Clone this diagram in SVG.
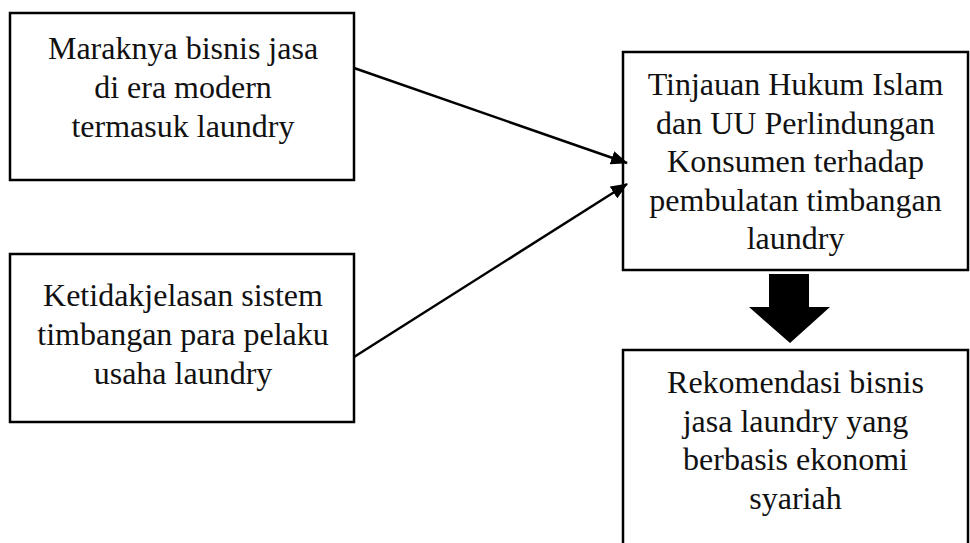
<svg xmlns="http://www.w3.org/2000/svg" width="970" height="543" viewBox="0 0 970 543">
<defs>
<style>
.box{fill:#fff;stroke:#000;stroke-width:2.5}
.t{font-family:"Liberation Serif","Times New Roman",serif;font-size:32px;fill:#111;text-anchor:middle}
.con{stroke:#000;stroke-width:2.5;fill:none}
</style>
<marker id="ah" markerWidth="17" markerHeight="14" refX="16" refY="7" orient="auto" markerUnits="userSpaceOnUse" viewBox="0 0 17 14">
<path d="M0,0 L17,7 L0,14 z" fill="#000"/>
</marker>
</defs>
<rect width="970" height="543" fill="#fff"/>
<g id="n1">
<rect class="box" x="10" y="13" width="344" height="167"/>
<text class="t" x="183" y="59">Maraknya bisnis jasa</text>
<text class="t" x="183" y="98">di era modern</text>
<text class="t" x="183" y="137">termasuk laundry</text>
</g>
<g id="n2">
<rect class="box" x="10" y="254" width="344" height="168"/>
<text class="t" x="183" y="306">Ketidakjelasan sistem</text>
<text class="t" x="183" y="345">timbangan para pelaku</text>
<text class="t" x="183" y="384">usaha laundry</text>
</g>
<g id="n3">
<rect class="box" x="623" y="52" width="345" height="218"/>
<text class="t" x="795.5" y="95">Tinjauan Hukum Islam</text>
<text class="t" x="795.5" y="133.5">dan UU Perlindungan</text>
<text class="t" x="795.5" y="172">Konsumen terhadap</text>
<text class="t" x="795.5" y="210.5">pembulatan timbangan</text>
<text class="t" x="795.5" y="249">laundry</text>
</g>
<g id="n4">
<rect class="box" x="623" y="350" width="345" height="210"/>
<text class="t" x="795.5" y="393">Rekomendasi bisnis</text>
<text class="t" x="795.5" y="431.5">jasa laundry yang</text>
<text class="t" x="795.5" y="470">berbasis ekonomi</text>
<text class="t" x="795.5" y="508.5">syariah</text>
</g>
<g id="connectors">
<line class="con" x1="354" y1="68" x2="627" y2="163" marker-end="url(#ah)"/>
<line class="con" x1="354" y1="357" x2="627" y2="184" marker-end="url(#ah)"/>
<path d="M769,274 L809,274 L809,307 L830,307 L790,343 L749,307 L769,307 z" fill="#000"/>
</g>
</svg>
